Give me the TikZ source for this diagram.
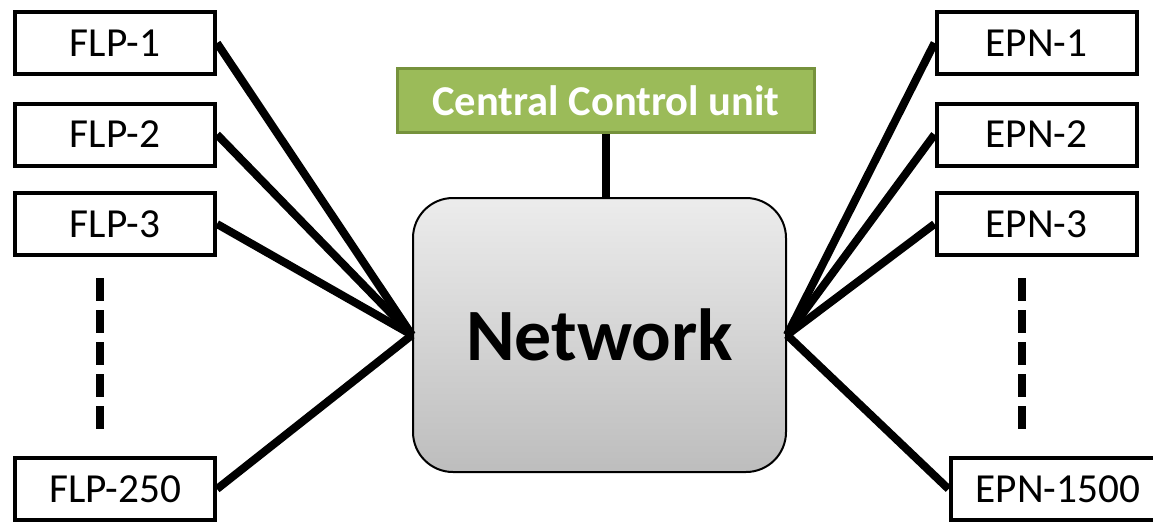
\documentclass[tikz,border=0pt]{standalone}
\usepackage{fontspec}
\setmainfont{Carlito}
\definecolor{ccugreen}{RGB}{155,187,89}
\definecolor{ccuborder}{RGB}{118,146,60}
\definecolor{netlight}{RGB}{236,236,236}
\definecolor{netdark}{RGB}{189,189,189}

\begin{document}
\begin{tikzpicture}[
    unit/.style={draw, line width=0.08cm, minimum width=4cm, minimum height=1.24cm, inner sep=0pt, font=\fontsize{23.5}{28}\selectfont},
    link/.style={line width=0.16cm},
    gap/.style={line width=0.16cm, dash pattern=on 0.46cm off 0.18cm}
]
    \useasboundingbox (0,0) rectangle (23.06,-10.44);

    \node[draw, line width=0.04cm, rounded corners=0.8cm, top color=netlight, bottom color=netdark, minimum width=7.46cm, minimum height=5.48cm, font=\bfseries\fontsize{42}{50}\selectfont] (net) at (11.99,-6.70) {Network};
    \node[draw=ccuborder, fill=ccugreen, line width=0.07cm, minimum width=8.34cm, minimum height=1.28cm, text=white, font=\bfseries\fontsize{24.2}{29}\selectfont] (ccu) at (12.12,-2.01) {Central Control unit};

    \node[unit] (flp1) at (2.30,-0.86) {FLP-1};
    \node[unit] (flp2) at (2.30,-2.69) {FLP-2};
    \node[unit] (flp3) at (2.30,-4.48) {FLP-3};
    \node[unit] (flp250) at (2.30,-9.78) {FLP-250};

    \node[unit] (epn1) at (20.73,-0.86) {EPN-1};
    \node[unit] (epn2) at (20.73,-2.69) {EPN-2};
    \node[unit] (epn3) at (20.73,-4.48) {EPN-3};
    \node[unit, minimum width=4.3cm] (epn1500) at (21.16,-9.78) {EPN-1500};

    \draw[link] (ccu.south) -- (ccu.south |- net.north);

    \draw[link] (flp1.east) -- (net.west);
    \draw[link] (flp2.east) -- (net.west);
    \draw[link] (flp3.east) -- (net.west);
    \draw[link] (flp250.east) -- (net.west);

    \draw[link] (epn1.west) -- (net.east);
    \draw[link] (epn2.west) -- (net.east);
    \draw[link] (epn3.west) -- (net.east);
    \draw[link] (epn1500.west) -- (net.east);

    \draw[gap] (2.00,-5.56) -- (2.00,-8.58);
    \draw[gap] (20.44,-5.56) -- (20.44,-8.58);
\end{tikzpicture}
\end{document}
